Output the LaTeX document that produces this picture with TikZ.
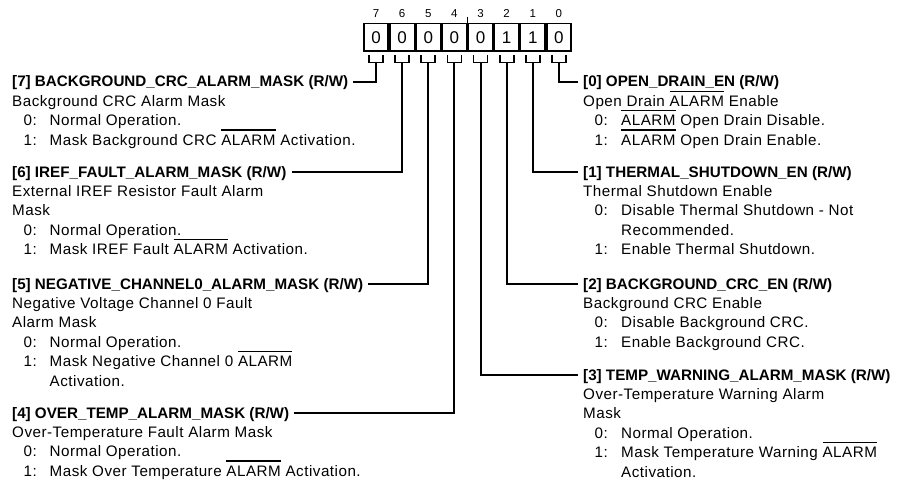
\documentclass[tikz,border=0pt]{standalone}
\usepackage{fontspec}
\setmainfont{Liberation Sans}
\newfontfamily\bodyfont[LetterSpace=3.3]{Liberation Sans}
\newcommand\ovl[1]{{\setbox0\hbox{#1}\rlap{\raisebox{14.6pt}{\rule{\wd0}{1.2pt}}}\box0}}
\tikzset{
 hdr/.style={anchor=base west, inner sep=0pt, font=\fontsize{15.2}{18}\selectfont\bfseries, text height=10.9pt, text depth=0.9pt},
 body/.style={anchor=base west, inner sep=0pt, font=\fontsize{15.2}{18}\bodyfont},
 cell/.style={draw, line width=1.7pt, minimum width=24.5pt, minimum height=27.3pt, inner sep=0pt, font=\fontsize{17}{18}\selectfont},
 bitno/.style={anchor=base, inner sep=0pt, font=\fontsize{11.5}{12}\selectfont},
 conn/.style={line width=2pt, shorten >=5pt},
 ubr/.style={line width=1.8pt},
}
\begin{document}
\begin{tikzpicture}[x=1pt,y=-1pt]
\useasboundingbox (0,0) rectangle (898,487);
% register cells
\foreach \b/\v [count=\i from 0] in {7/0,6/0,5/0,4/0,3/0,2/1,1/1,0/0}{
  \pgfmathsetmacro\cx{363+26.125*(\i+0.5)}
  \node[cell] (c\b) at (\cx,37.2) {\v};
  \node[bitno] (n\b) at (\cx,18) {\b};
  \coordinate (u\b) at (\cx,62.5);
  \draw[ubr] (u\b) ++(-7,-7.5) -- ++(0,7.5) -- ++(14,0) -- ++(0,-7.5);
}
\draw[line width=1.5pt] (467.5,16.7) -- (467.5,22.7);
% ---------- left column ----------
\node[hdr] (h7) at (12,87) {[7] BACKGROUND\_CRC\_ALARM\_MASK (R/W)};
\node[body] (h7a) at (12,106.4) {Background CRC Alarm Mask};
\node[body] (h7b) at (23.5,125.8) {0:};
\node[body] (h7c) at (49.5,125.8) {Normal Operation.};
\node[body] (h7d) at (23.5,145.2) {1:};
\node[body] (h7e) at (49.5,145.2) {Mask Background CRC \ovl{ALARM} Activation.};

\node[hdr] (h6) at (12,177) {[6] IREF\_FAULT\_ALARM\_MASK (R/W)};
\node[body] (h6a) at (12,196.4) {External IREF Resistor Fault Alarm};
\node[body] (h6b) at (12,215.8) {Mask};
\node[body] (h6c) at (23.5,235.2) {0:};
\node[body] (h6d) at (49.5,235.2) {Normal Operation.};
\node[body] (h6e) at (23.5,254.6) {1:};
\node[body] (h6f) at (49.5,254.6) {Mask IREF Fault \ovl{ALARM} Activation.};

\node[hdr] (h5) at (12,289) {[5] NEGATIVE\_CHANNEL0\_ALARM\_MASK (R/W)};
\node[body] (h5a) at (12,308.4) {Negative Voltage Channel 0 Fault};
\node[body] (h5b) at (12,327.8) {Alarm Mask};
\node[body] (h5c) at (23.5,347.2) {0:};
\node[body] (h5d) at (49.5,347.2) {Normal Operation.};
\node[body] (h5e) at (23.5,366.6) {1:};
\node[body] (h5f) at (49.5,366.6) {Mask Negative Channel 0 \ovl{ALARM}};
\node[body] (h5g) at (49.5,386) {Activation.};

\node[hdr] (h4) at (12,418) {[4] OVER\_TEMP\_ALARM\_MASK (R/W)};
\node[body] (h4a) at (12,437.4) {Over-Temperature Fault Alarm Mask};
\node[body] (h4b) at (23.5,456.8) {0:};
\node[body] (h4c) at (49.5,456.8) {Normal Operation.};
\node[body] (h4d) at (23.5,476.2) {1:};
\node[body] (h4e) at (49.5,476.2) {Mask Over Temperature \ovl{ALARM} Activation.};
% ---------- right column ----------
\node[hdr] (h0) at (583,87) {[0] OPEN\_DRAIN\_EN (R/W)};
\node[body] (h0a) at (583,106.4) {Open Drain \ovl{ALARM} Enable};
\node[body] (h0b) at (594.5,125.8) {0:};
\node[body] (h0c) at (621,125.8) {\ovl{ALARM} Open Drain Disable.};
\node[body] (h0d) at (594.5,145.2) {1:};
\node[body] (h0e) at (621,145.2) {\ovl{ALARM} Open Drain Enable.};

\node[hdr] (h1) at (583,177) {[1] THERMAL\_SHUTDOWN\_EN (R/W)};
\node[body] (h1a) at (583,196.4) {Thermal Shutdown Enable};
\node[body] (h1b) at (594.5,215.8) {0:};
\node[body] (h1c) at (621,215.8) {Disable Thermal Shutdown - Not};
\node[body] (h1d) at (621,235.2) {Recommended.};
\node[body] (h1e) at (594.5,254.6) {1:};
\node[body] (h1f) at (621,254.6) {Enable Thermal Shutdown.};

\node[hdr] (h2) at (583,289) {[2] BACKGROUND\_CRC\_EN (R/W)};
\node[body] (h2a) at (583,308.4) {Background CRC Enable};
\node[body] (h2b) at (594.5,327.8) {0:};
\node[body] (h2c) at (621,327.8) {Disable Background CRC.};
\node[body] (h2d) at (594.5,347.2) {1:};
\node[body] (h2e) at (621,347.2) {Enable Background CRC.};

\node[hdr] (h3) at (583,380) {[3] TEMP\_WARNING\_ALARM\_MASK (R/W)};
\node[body] (h3a) at (583,399.4) {Over-Temperature Warning Alarm};
\node[body] (h3b) at (583,418.8) {Mask};
\node[body] (h3c) at (594.5,438.2) {0:};
\node[body] (h3d) at (621,438.2) {Normal Operation.};
\node[body] (h3e) at (594.5,457.6) {1:};
\node[body] (h3f) at (621,457.6) {Mask Temperature Warning \ovl{ALARM}};
\node[body] (h3g) at (621,477) {Activation.};
% ---------- connectors ----------
\foreach \b in {4,...,7}{
  \draw[conn] (u\b) |- (h\b.east);
}
\foreach \b in {0,...,3}{
  \draw[conn] (u\b) |- (h\b.west);
}
\end{tikzpicture}
\end{document}
